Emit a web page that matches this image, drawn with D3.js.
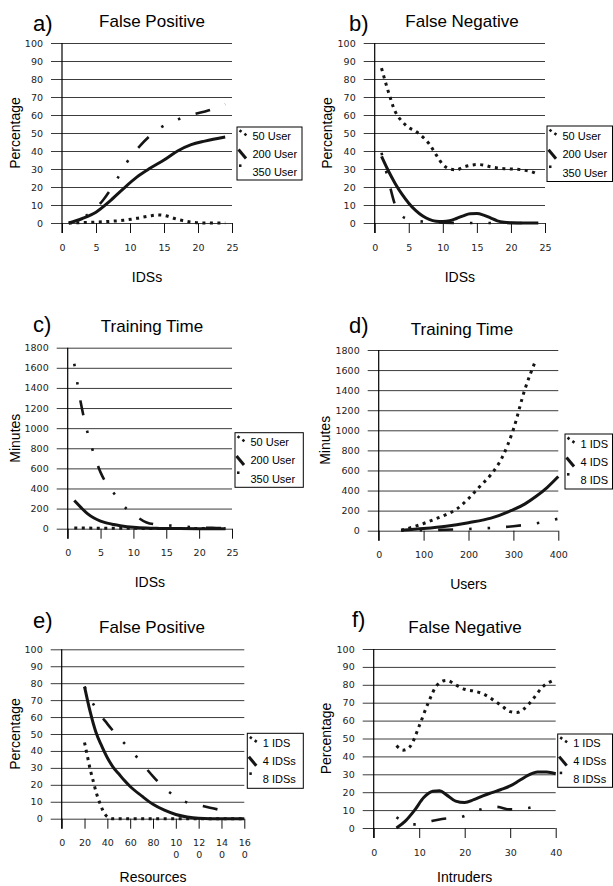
<!DOCTYPE html>
<html><head><meta charset="utf-8">
<script src="https://cdn.jsdelivr.net/npm/d3@7"></script>
<style>body{margin:0;background:#fff}svg{display:block}</style>
</head><body>
<svg id="chart" width="613" height="886"></svg>
<script>
// ---------- data ----------
// a) False Positive vs IDSs
const aX1 = [1,3,5,7,9,11,13,14,15,17,19,21,24];
const aY1 = [0,0.2,0.5,0.9,1.5,2.6,4,4.5,4.2,2,0.5,0,0];
const aX2 = [1,3,5,7,9,11,13,15,17,19,21,24];
const aY2 = [0,2.5,6,12,19,25.5,30.5,35,40,43.5,45.5,47.8];
const aX3 = [1,3.5,6,8.2,9.6,11.5,14.5,17,19.5,21.5,24];
const aY3 = [0,4,12.5,25,34,43,53,57.5,60.5,62.5,66];
// b) False Negative vs IDSs
const bX1 = [1,2,3,4,5,6,7,8,9,10,11,12,13,14,15,16,17,18,19,20,21,22,23,24];
const bY1 = [86,73,62,56.5,53,51,48,44,38,32.5,30,29.5,31,32,32.5,32.2,31.2,30.6,30.2,30,29.8,29.3,28.5,27];
const bX2 = [1,2,3,4,5,6,7,8,9,10,11,12,13,14,15,16,17,18,19,20,22,24];
const bY2 = [37,29,22,16,11,7,4,2,1,0.8,1.2,2.5,4,5.2,5.3,4.4,2.8,1.2,0.4,0.1,0,0];
const bX3 = [1,2,3,4,5,7,10,14,24];
const bY3 = [39,24,10,4,2,0.8,0.2,0,0];
// c) Training Time vs IDSs
const cX1 = [1,3,5,8,12,16,20,24];
const cY1 = [8,6,5,4,3,2,2,1];
const cX2 = [1,2,3,4,5,6,7,8,10,12,14,17,20,24];
const cY2 = [280,212,150,106,76,55,41,30,14,6,3,1,0,0];
const cX3 = [1,2,3,4,5,6,7,8,9,10,12,14,16,18,20,22,24];
const cY3 = [1640,1250,960,740,560,440,355,265,195,145,62,38,30,20,12,8,5];
// d) Training Time vs Users
const dX1 = [50,75,100,125,150,175,200,225,250,275,300,325,350];
const dY1 = [5,35,72,115,160,220,320,440,560,730,1010,1400,1700];
const dX2 = [50,100,150,200,250,300,325,350,375,400];
const dY2 = [5,22,45,80,125,210,265,340,430,540];
const dX3 = [50,100,150,200,250,300,350,400];
const dY3 = [2,5,10,17,28,45,73,120];
// e) False Positive vs Resources
const eX1 = [20,22.5,25,27.5,30,33,36,40,45,60,80,100,120,140,160];
const eY1 = [45,37,29,22.5,16,10,5,1.2,0,0,0,0,0,0,0];
const eX2 = [20,25,30,35,40,45,50,55,60,70,80,90,100,110,120,140,160];
const eY2 = [78,63,51,43,36,30.5,26.5,22.5,19,13.5,8.5,5,2.5,1,0.3,0,0];
const eX3 = [20,30,40,50,60,70,80,90,100,110,120,130,140,150];
const eY3 = [78,65,56,48,41,33,25,18,13,9.5,8,6.5,5,3.7];
// f) False Negative vs Intruders
const fX1 = [5,6.5,8,10,12,14,16,18,20,22,24,26,28,30,31.5,33,35,37,40];
const fY1 = [46,43.5,45.5,57,70,80,82.5,80,77.5,76.5,75,72,68.5,65,64.5,66.5,72,78.5,83];
const fX2 = [5,7,9,11,13,14.5,16,18,20,22,24,26,28,30,32,34,36,38,40];
const fY2 = [0,4,10,17,20.5,20.8,18.5,15,14.2,15.8,18,19.8,21.5,23.5,26.5,29.5,31.3,31.3,30.3];
const fX3 = [5,7,9,12,15,19,23,27,30,34,37.5];
const fY3 = [6,3,2,3.5,5,6,10,11.8,10.4,11.2,14.2];

// ticks & labels
const pctTicks = [0,10,20,30,40,50,60,70,80,90,100];
const minTicks = [0,200,400,600,800,1000,1200,1400,1600,1800];
const idsTicks = [0,5,10,15,20,25];
const userTicks = [0,100,200,300,400];
const resTicks = [0,20,40,60,80,100,120,140,160];
const resTickLabels = ["0","20","40","60","80","10\n0","12\n0","14\n0","16\n0"];
const intrTicks = [0,10,20,30,40];
const userLegend = ["50 User","200 User","350 User"];
const idsLegendD = ["1 IDS","4 IDS","8 IDS"];
const idsLegendEF = ["1 IDS","4 IDSs","8 IDSs"];

// ---------- drawing ----------
const svg = d3.select("#chart");
const ink = "#151515";
const styles = [
  {dash:"3,4.5", w:3},
  {dash:null, w:3},
  {dash:"2.5,16,2.5,16,15,16", w:2.6}
];
const zip = (xs, ys) => xs.map((v,i)=>[v, ys[i]]);

const panels = [
  {letter:"a)", lx:33, ly:31, title:"False Positive", tx:152, ty:27, yLabel:"Percentage", ylx:15, xLabel:"IDSs", xlOff:59,
   L:62, R:232, T:43, B:223, xDomain:[0,25], xTicks:idsTicks, yDomain:[0,100], yTicks:pctTicks,
   legend:userLegend, box:[237,127,302,180],
   series:[zip(aX1,aY1), zip(aX2,aY2), zip(aX3,aY3)]},
  {letter:"b)", lx:349, ly:31, title:"False Negative", tx:462, ty:27, yLabel:"Percentage", ylx:327, xLabel:"IDSs", xlOff:59,
   L:374.7, R:545, T:43, B:223, xDomain:[0,25], xTicks:idsTicks, yDomain:[0,100], yTicks:pctTicks,
   legend:userLegend, box:[547,126,612.5,181.5],
   series:[zip(bX1,bY1), zip(bX2,bY2), zip(bX3,bY3)]},
  {letter:"c)", lx:33, ly:332, title:"Training Time", tx:152, ty:332, yLabel:"Minutes", ylx:15, xLabel:"IDSs", xlOff:58,
   L:67.7, R:232, T:347.7, B:528.7, xDomain:[0,25], xTicks:idsTicks, yDomain:[0,1800], yTicks:minTicks,
   legend:userLegend, box:[235,432.7,303.3,487.3],
   series:[zip(cX1,cY1), zip(cX2,cY2), zip(cX3,cY3)]},
  {letter:"d)", lx:349, ly:333, title:"Training Time", tx:462, ty:335, yLabel:"Minutes", ylx:325, xLabel:"Users", xlOff:58,
   L:378.7, R:558.3, T:350, B:530.7, xDomain:[0,400], xTicks:userTicks, yDomain:[0,1800], yTicks:minTicks,
   legend:idsLegendD, box:[565,434,612.5,489],
   series:[zip(dX1,dY1), zip(dX2,dY2), zip(dX3,dY3)]},
  {letter:"e)", lx:33, ly:628, title:"False Positive", tx:152, ty:633, yLabel:"Percentage", ylx:15, xLabel:"Resources", xlOff:63,
   L:61.7, R:244.3, T:649.3, B:818.7, xDomain:[0,160], xTicks:resTicks, xTickLabels:resTickLabels, yDomain:[0,100], yTicks:pctTicks,
   legend:idsLegendEF, box:[247.3,733.3,303.3,788.3],
   series:[zip(eX1,eY1), zip(eX2,eY2), zip(eX3,eY3)]},
  {letter:"f)", lx:352, ly:627, title:"False Negative", tx:465, ty:633, yLabel:"Percentage", ylx:326, xLabel:"Intruders", xlOff:53.5,
   L:373.7, R:555.7, T:649, B:828, xDomain:[0,40], xTicks:intrTicks, yDomain:[0,100], yTicks:pctTicks,
   legend:idsLegendEF, box:[557.7,734,612.5,787.3],
   series:[zip(fX1,fY1), zip(fX2,fY2), zip(fX3,fY3)]}
];

function drawPanel(p){
  const g = svg.append("g");
  const x = d3.scaleLinear().domain(p.xDomain).range([p.L, p.R]);
  const y = d3.scaleLinear().domain(p.yDomain).range([p.B, p.T]);

  // horizontal gridlines + y tick labels
  const ya = g.append("g").attr("transform",`translate(${p.R},0)`)
    .call(d3.axisLeft(y).tickValues(p.yTicks).tickFormat(d3.format("d"))
      .tickSizeInner(p.R-p.L+11).tickSizeOuter(0).tickPadding(8));
  ya.select(".domain").remove();
  ya.selectAll(".tick line").attr("stroke","#3c3c3c").attr("stroke-width",1);
  ya.selectAll(".tick text").attr("font-family","'DejaVu Sans', sans-serif").attr("font-size",9.5).attr("fill","#222");

  // x ticks
  const xa = g.append("g").attr("transform",`translate(0,${p.B})`)
    .call(d3.axisBottom(x).tickValues(p.xTicks).tickSizeInner(10).tickSizeOuter(0).tickPadding(11)
      .tickFormat(d => p.xTickLabels ? "" : String(d)));
  xa.select(".domain").remove();
  xa.selectAll(".tick line").attr("stroke","#111").attr("stroke-width",1);
  xa.selectAll(".tick text").attr("font-family","'DejaVu Sans', sans-serif").attr("font-size",9.5).attr("fill","#222");
  if (p.xTickLabels){
    xa.selectAll(".tick text").each(function(d,i){
      const t = d3.select(this);
      p.xTickLabels[i].split("\n").forEach((s,k)=>{
        t.append("tspan").attr("x",0).attr("dy", k===0 ? "0.71em" : "1.2em").text(s);
      });
    }).attr("dy",null);
  }

  // y axis vertical line
  g.append("line").attr("x1",p.L).attr("x2",p.L).attr("y1",p.T).attr("y2",p.B+10)
    .attr("stroke","#000").attr("stroke-width",1.2);

  // series
  const line = d3.line().x(d=>x(d[0])).y(d=>y(d[1])).curve(d3.curveMonotoneX);
  p.series.forEach((s,i)=>{
    const st = styles[i];
    g.append("path").datum(s).attr("d",line).attr("fill","none")
      .attr("stroke",ink).attr("stroke-width",st.w)
      .attr("stroke-dasharray",st.dash).attr("stroke-linecap","butt");
  });

  // titles
  g.append("text").attr("x",p.lx).attr("y",p.ly).text(p.letter)
    .attr("font-family","'Liberation Sans', Arial, sans-serif").attr("font-size",22).attr("fill","#000");
  g.append("text").attr("x",p.tx).attr("y",p.ty).attr("text-anchor","middle").text(p.title)
    .attr("font-family","'Liberation Sans', Arial, sans-serif").attr("font-size",17).attr("fill","#000");
  g.append("text").attr("transform",`translate(${p.ylx},${(p.T+p.B)/2}) rotate(-90)`)
    .attr("text-anchor","middle").attr("dy","0.35em").text(p.yLabel)
    .attr("font-family","'Liberation Sans', Arial, sans-serif").attr("font-size",14).attr("fill","#000");
  g.append("text").attr("x",(p.L+p.R)/2).attr("y",p.B + p.xlOff).attr("text-anchor","middle").text(p.xLabel)
    .attr("font-family","'Liberation Sans', Arial, sans-serif").attr("font-size",14).attr("fill","#000");

  // legend
  const [bx0,by0,bx1,by1] = p.box;
  const lg = g.append("g");
  lg.append("rect").attr("x",bx0).attr("y",by0).attr("width",bx1-bx0).attr("height",by1-by0)
    .attr("fill","#fff").attr("stroke","#000").attr("stroke-width",1);
  const rowH = (by1-by0)/3;
  p.legend.forEach((lab,i)=>{
    const cy = by0 + rowH*(i+0.5) + 0.5;
    if (i===0){
      lg.append("path").attr("d",`M${bx0+2.5},${cy-6}L${bx0+11},${cy}`)
        .attr("stroke",ink).attr("stroke-width",2.6).attr("stroke-dasharray","2.5,3.5").attr("fill","none");
    } else if (i===1){
      lg.append("path").attr("d",`M${bx0+1.5},${cy-4.5}L${bx0+9},${cy+4.5}`)
        .attr("stroke",ink).attr("stroke-width",3).attr("fill","none");
    } else {
      lg.append("path").attr("d",`M${bx0+2},${cy-6}L${bx0+4.5},${cy-6}`)
        .attr("stroke",ink).attr("stroke-width",2.6).attr("fill","none");
    }
    lg.append("text").attr("x",bx0+15.5).attr("y",cy).attr("dy","0.35em").text(lab)
      .attr("font-family","'Liberation Sans', Arial, sans-serif").attr("font-size",11).attr("fill","#000");
  });
}
panels.forEach(drawPanel);
</script>
</body></html>
